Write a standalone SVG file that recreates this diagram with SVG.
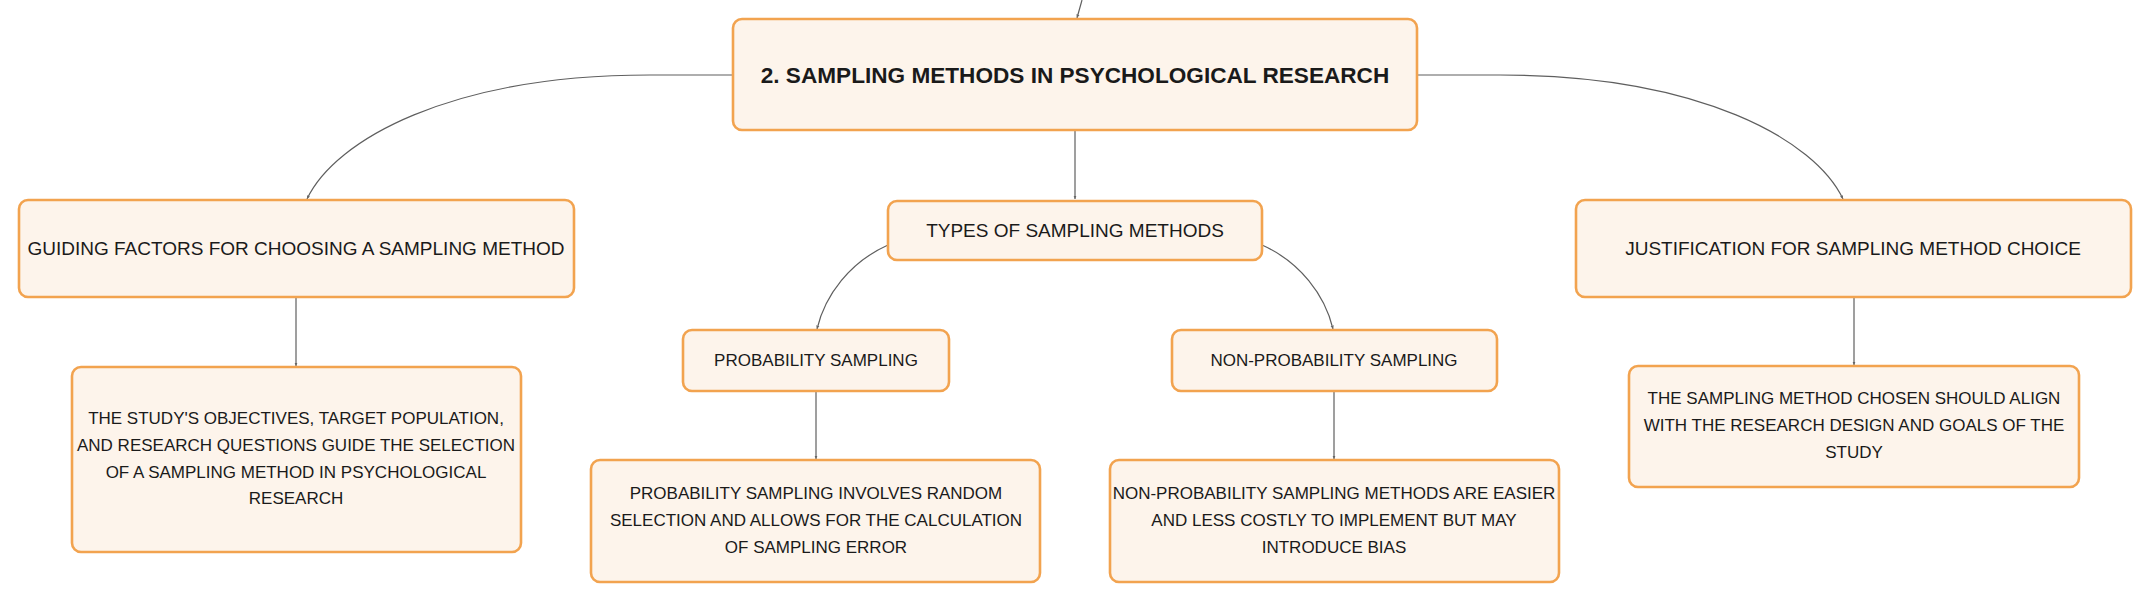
<svg xmlns="http://www.w3.org/2000/svg" width="2151" height="602" viewBox="0 0 2151 602">
<defs>
<marker id="arr" markerWidth="4" markerHeight="4" refX="3.5" refY="2" orient="auto" markerUnits="userSpaceOnUse">
<path d="M0,0.4 L3.5,2 L0,3.6 z" fill="#666"/>
</marker>
<style>
.box{fill:#fdf4eb;stroke:#f2a34f;stroke-width:2.6}
.t{font-family:"Liberation Sans",Arial,sans-serif;fill:#1a1a1a;text-anchor:middle;dominant-baseline:central}
.main{font-size:22.6px;font-weight:bold}
.l1{font-size:19px}
.l2{font-size:17px}
.d{font-size:17px}
.c{fill:none;stroke:#5f5f5f;stroke-width:1.2;marker-end:url(#arr)}
</style>
</defs>
<rect width="2151" height="602" fill="#ffffff"/>
<g id="connectors">
<path class="c" d="M1082,0 L1077,18"/>
<path class="c" d="M1075,131 L1075,199"/>
<path class="c" d="M733,75 L650,75 C450,75 335,140 307,199"/>
<path class="c" d="M1417,75 L1500,75 C1700,75 1815,140 1843,199"/>
<path class="c" d="M888,245 C850,262 825,295 817,329"/>
<path class="c" d="M1262,245 C1300,262 1325,295 1333,329"/>
<path class="c" d="M816,391 L816,459"/>
<path class="c" d="M1334,391 L1334,459"/>
<path class="c" d="M296,297 L296,366"/>
<path class="c" d="M1854,297 L1854,365"/>
</g>
<g id="main">
<rect class="box" x="733" y="19" width="684" height="111" rx="9"/>
<text class="t main" x="1075" y="75">2. SAMPLING METHODS IN PSYCHOLOGICAL RESEARCH</text>
</g>
<g id="guiding">
<rect class="box" x="19" y="200" width="555" height="97" rx="9"/>
<text class="t l1" x="296" y="248">GUIDING FACTORS FOR CHOOSING A SAMPLING METHOD</text>
</g>
<g id="types">
<rect class="box" x="888" y="201" width="374" height="59" rx="9"/>
<text class="t l1" x="1075" y="230">TYPES OF SAMPLING METHODS</text>
</g>
<g id="justification">
<rect class="box" x="1576" y="200" width="555" height="97" rx="9"/>
<text class="t l1" x="1853" y="248">JUSTIFICATION FOR SAMPLING METHOD CHOICE</text>
</g>
<g id="guiding-desc">
<rect class="box" x="72" y="367" width="449" height="185" rx="9"/>
<text class="t d" x="296" y="418">THE STUDY'S OBJECTIVES, TARGET POPULATION,</text>
<text class="t d" x="296" y="445">AND RESEARCH QUESTIONS GUIDE THE SELECTION</text>
<text class="t d" x="296" y="472">OF A SAMPLING METHOD IN PSYCHOLOGICAL</text>
<text class="t d" x="296" y="498">RESEARCH</text>
</g>
<g id="probability">
<rect class="box" x="683" y="330" width="266" height="61" rx="9"/>
<text class="t l2" x="816" y="360">PROBABILITY SAMPLING</text>
</g>
<g id="non-probability">
<rect class="box" x="1172" y="330" width="325" height="61" rx="9"/>
<text class="t l2" x="1334" y="360">NON-PROBABILITY SAMPLING</text>
</g>
<g id="probability-desc">
<rect class="box" x="591" y="460" width="449" height="122" rx="9"/>
<text class="t d" x="816" y="493">PROBABILITY SAMPLING INVOLVES RANDOM</text>
<text class="t d" x="816" y="520">SELECTION AND ALLOWS FOR THE CALCULATION</text>
<text class="t d" x="816" y="547">OF SAMPLING ERROR</text>
</g>
<g id="non-probability-desc">
<rect class="box" x="1110" y="460" width="449" height="122" rx="9"/>
<text class="t d" x="1334" y="493">NON-PROBABILITY SAMPLING METHODS ARE EASIER</text>
<text class="t d" x="1334" y="520">AND LESS COSTLY TO IMPLEMENT BUT MAY</text>
<text class="t d" x="1334" y="547">INTRODUCE BIAS</text>
</g>
<g id="justification-desc">
<rect class="box" x="1629" y="366" width="450" height="121" rx="9"/>
<text class="t d" x="1854" y="398">THE SAMPLING METHOD CHOSEN SHOULD ALIGN</text>
<text class="t d" x="1854" y="425">WITH THE RESEARCH DESIGN AND GOALS OF THE</text>
<text class="t d" x="1854" y="452">STUDY</text>
</g>
</svg>
